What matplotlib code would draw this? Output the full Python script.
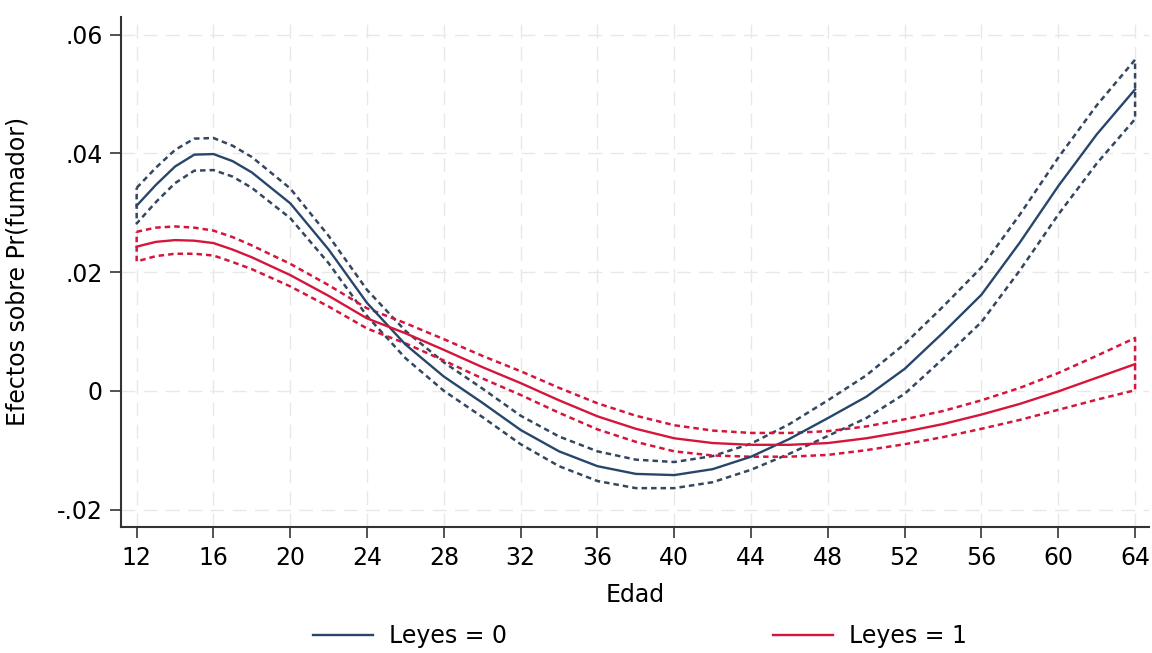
import numpy as np
import matplotlib
matplotlib.use("Agg")
import matplotlib.pyplot as plt

plt.rcParams['font.family'] = ['DejaVu Sans']

# ages (Edad) where the margins were evaluated
edad = [12, 13, 14, 15, 16, 17, 18, 20, 22, 24, 26, 28, 30, 32, 34, 36, 38,
        40, 42, 44, 46, 48, 50, 52, 54, 56, 58, 60, 62, 64]

# Leyes = 0 : point estimate and half width of the CI
leyes0 = [0.0312, 0.0347, 0.0378, 0.0398, 0.0399, 0.0387, 0.0368, 0.0316,
          0.0238, 0.0148, 0.0078, 0.0024, -0.0020, -0.0066, -0.0102, -0.0127,
          -0.0140, -0.0142, -0.0132, -0.0111, -0.0081, -0.0046, -0.0010,
          0.0037, 0.0098, 0.0162, 0.0250, 0.0345, 0.0432, 0.0508]
leyes0_hw = [0.0030, 0.0029, 0.0028, 0.0027, 0.0027, 0.0026, 0.0026, 0.0025,
             0.0023, 0.0022, 0.0023, 0.0024, 0.0024, 0.0024, 0.0025, 0.0025,
             0.0024, 0.0022, 0.0022, 0.0022, 0.0025, 0.0030, 0.0036, 0.0042,
             0.0044, 0.0046, 0.0047, 0.0048, 0.0049, 0.0050]

# Leyes = 1
leyes1 = [0.0243, 0.0251, 0.0254, 0.0253, 0.0249, 0.0238, 0.0225, 0.0195,
          0.0160, 0.0122, 0.0097, 0.0069, 0.0040, 0.0013, -0.0016, -0.0043,
          -0.0064, -0.0080, -0.0088, -0.0091, -0.0091, -0.0088, -0.0080,
          -0.0069, -0.0056, -0.0040, -0.0022, -0.0001, 0.0022, 0.0045]
leyes1_hw = [0.0025, 0.0024, 0.0023, 0.0022, 0.0021, 0.0021, 0.0020, 0.0019,
             0.0018, 0.0017, 0.0017, 0.0018, 0.0019, 0.0020, 0.0021, 0.0022,
             0.0022, 0.0022, 0.0021, 0.0020, 0.0020, 0.0020, 0.0020, 0.0021,
             0.0022, 0.0024, 0.0027, 0.0031, 0.0037, 0.0044]

xticks = list(range(12, 65, 4))
yticks = [-0.02, 0, 0.02, 0.04, 0.06]
ytick_labels = ['-.02', '0', '.02', '.04', '.06']

blue = '#27466b'
blue_ci = '#34475f'
red = '#d4163c'
fs = 17

fig = plt.figure(figsize=(11.52, 6.53), dpi=100)
ax = fig.add_axes([0.1048, 0.1934, 0.893, 0.7806])

x = np.array(edad, dtype=float)
series = [(np.array(leyes0), np.array(leyes0_hw), blue, blue_ci, 'Leyes = 0'),
          (np.array(leyes1), np.array(leyes1_hw), red, red, 'Leyes = 1')]

handles = []
for y, hw, c, cci, lab in series:
    up, lo = y + hw, y - hw
    # CI drawn as a closed dashed outline, like Stata's rarea without fill
    ax.plot(np.r_[x, x[::-1], x[0]], np.r_[up, lo[::-1], up[0]],
            color=cci, lw=1.8, linestyle=(0, (2.2, 1.6)), zorder=3)
    h, = ax.plot(x, y, color=c, lw=1.7, zorder=4, label=lab)
    handles.append(h)

ax.set_xlim(11.17, 64.75)
ax.set_ylim(-0.0229, 0.063)
ax.set_xticks(xticks)
ax.set_yticks(yticks)
ax.set_yticklabels(ytick_labels)
ax.tick_params(axis='both', labelsize=fs, length=8, width=1.2, color='#333333')
ax.tick_params(axis='y', pad=5)
ax.tick_params(axis='x', pad=6)

ax.grid(True, color='#e8e8e8', lw=1.0, linestyle=(0, (10, 6)))
ax.set_axisbelow(True)
for s in ['top', 'right']:
    ax.spines[s].set_visible(False)
for s in ['left', 'bottom']:
    ax.spines[s].set_linewidth(1.5)
    ax.spines[s].set_color('#333333')

ax.set_xlabel('Edad', fontsize=fs, labelpad=9)
ax.set_ylabel('Efectos sobre Pr(fumador)', fontsize=fs, labelpad=20)

ax.legend(handles=handles, loc='center', bbox_to_anchor=(0.505, -0.214),
          ncol=2, frameon=False, fontsize=fs, handlelength=2.55,
          handletextpad=0.68, columnspacing=11.25)

fig.savefig('out.png', dpi=100, facecolor='white')
